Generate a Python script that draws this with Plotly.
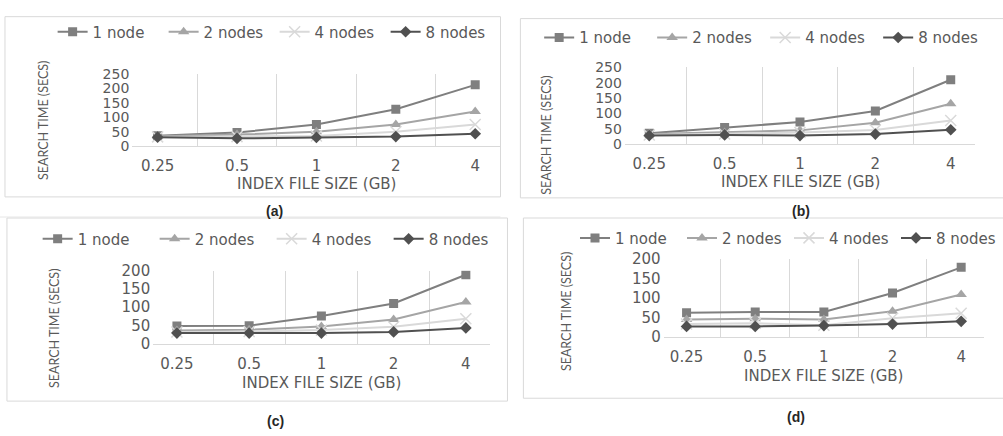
import plotly.graph_objects as go

W, H = 1003, 436

categories = ["0.25", "0.5", "1", "2", "4"]
series_names = ["1 node", "2 nodes", "4 nodes", "8 nodes"]

# panel (a)
a_1node = [36, 47, 75, 128, 213]
a_2nodes = [34, 40, 50, 75, 120]
a_4nodes = [32, 33, 35, 50, 75]
a_8nodes = [31, 27, 30, 33, 43]
# panel (b)
b_1node = [36, 54, 72, 108, 210]
b_2nodes = [33, 38, 45, 70, 132]
b_4nodes = [30, 33, 38, 46, 77]
b_8nodes = [28, 30, 28, 33, 47]
# panel (c)
c_1node = [48, 49, 76, 110, 189]
c_2nodes = [36, 38, 47, 66, 114]
c_4nodes = [32, 33, 37, 46, 68]
c_8nodes = [29, 29, 29, 32, 43]
# panel (d)
d_1node = [62, 64, 64, 113, 179]
d_2nodes = [45, 47, 45, 66, 109]
d_4nodes = [33, 35, 30, 48, 61]
d_8nodes = [27, 27, 29, 33, 40]

panel_labels = ["(a)", "(b)", "(c)", "(d)"]
x_title = "INDEX FILE SIZE (GB)"
y_title = "SEARCH TIME (SECS)"

panels = [
    [a_1node, a_2nodes, a_4nodes, a_8nodes],
    [b_1node, b_2nodes, b_4nodes, b_8nodes],
    [c_1node, c_2nodes, c_4nodes, c_8nodes],
    [d_1node, d_2nodes, d_4nodes, d_8nodes],
]
y_max = [250, 250, 200, 200]

# layout in pixels
plot_px = [  # x0, x1, ytop, ybottom
    (133, 503, 68, 143),
    (628, 980, 61, 141),
    (154, 492, 273, 349),
    (667, 989, 261, 342),
]
legend_px = [(276, 24), (769, 30), (273, 240), (793, 239)]
legend_entry = [66, 68, 72, 62]
ytitle_px = [(43, 116), (549, 132), (55, 333), (570, 316)]
xtitle_px = [(318, 183), (805, 180), (323, 390), (828, 383)]
label_px = [(276, 211), (805, 211), (277, 430), (800, 426)]
box_px = [(5, 8, 503, 196), (523, 10, 1010, 197), (7, 218, 510, 409), (526, 218, 1010, 406)]

colors = ["#7f7f7f", "#a5a5a5", "#d9d9d9", "#505050"]
symbols = ["square", "triangle-up", "x-thin-open", "diamond"]
msizes = [9, 10, 11, 9]

TXT = "#595959"

def px(x):
    return x / W

def py(y):
    return 1 - y / H

fig = go.Figure()
layout = dict(
    width=W, height=H, margin=dict(l=0, r=0, t=0, b=0),
    paper_bgcolor="white", plot_bgcolor="white", showlegend=True,
    shapes=[], annotations=[],
)

for i, series in enumerate(panels):
    k = "" if i == 0 else str(i + 1)
    leg = "legend" if i == 0 else f"legend{i + 1}"
    for j, vals in enumerate(series):
        mline = dict(color=colors[j], width=1.5) if symbols[j] == "x-thin-open" else dict(width=0)
        fig.add_trace(go.Scatter(
            x=categories, y=vals, name=series_names[j], mode="lines+markers",
            line=dict(color=colors[j], width=2),
            marker=dict(symbol=symbols[j], size=msizes[j], color=colors[j], line=mline),
            xaxis="x" + k, yaxis="y" + k, legend=leg,
        ))
    x0, x1, yt, yb = plot_px[i]
    layout["xaxis" + k] = dict(
        domain=[px(x0), px(x1)], anchor="y" + k, type="category",
        categoryorder="array", categoryarray=categories,
        tickson="boundaries", showgrid=True, gridcolor="#d9d9d9", gridwidth=1,
        showline=True, linecolor="#d9d9d9", linewidth=1, ticks="",
        tickfont=dict(family="DejaVu Sans", size=15, color=TXT),
        ticklabelstandoff=6, zeroline=False, fixedrange=True,
    )
    layout["yaxis" + k] = dict(
        domain=[py(yb), py(yt)], anchor="x" + k, range=[0, y_max[i]], dtick=50,
        showgrid=False, zeroline=False, showline=False, ticks="",
        tickfont=dict(family="DejaVu Sans", size=14 if y_max[i] == 250 else 15, color=TXT),
        ticklabelstandoff=2, fixedrange=True,
    )
    lx, ly = legend_px[i]
    layout[leg] = dict(
        orientation="h", x=px(lx), y=py(ly), xanchor="center", yanchor="middle",
        font=dict(family="DejaVu Sans", size=15, color=TXT), itemwidth=30,
        entrywidth=legend_entry[i], entrywidthmode="pixels",
        bgcolor="rgba(0,0,0,0)", tracegroupgap=0,
    )
    bx0, by0, bx1, by1 = box_px[i]
    layout["shapes"].append(dict(
        type="rect", xref="paper", yref="paper",
        x0=px(bx0), x1=px(bx1), y0=py(by1), y1=py(by0),
        line=dict(color="#d9d9d9", width=1), layer="below",
    ))
    tx, ty = ytitle_px[i]
    layout["annotations"].append(dict(
        text=y_title, x=px(tx), y=py(ty), xref="paper", yref="paper",
        showarrow=False, textangle=-90, xanchor="center", yanchor="middle",
        font=dict(family="Lato", size=12.5, color=TXT),
    ))
    tx, ty = xtitle_px[i]
    layout["annotations"].append(dict(
        text=x_title, x=px(tx), y=py(ty), xref="paper", yref="paper",
        showarrow=False, xanchor="center", yanchor="middle",
        font=dict(family="DejaVu Sans", size=15, color=TXT),
    ))
    tx, ty = label_px[i]
    layout["annotations"].append(dict(
        text="<b>" + panel_labels[i] + "</b>", x=px(tx), y=py(ty), xref="paper", yref="paper",
        showarrow=False, xanchor="center", yanchor="middle",
        font=dict(family="Liberation Sans", size=14, color="#262626"),
    ))

layout["shapes"].append(dict(
    type="line", xref="paper", yref="paper", x0=0, x1=px(503), y0=py(217), y1=py(217),
    line=dict(color="#e6e6e6", width=1), layer="below",
))

fig.update_layout(**layout)
fig.write_html(
    "out.html",
    config={"displayModeBar": False},
    post_script="document.body.style.margin='0px';",
)
